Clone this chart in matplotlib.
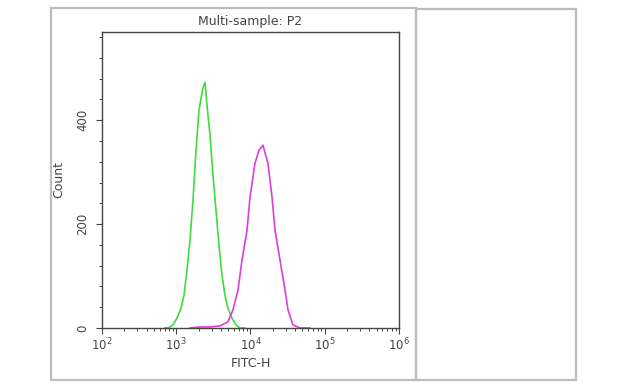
import matplotlib
matplotlib.use('Agg')
import matplotlib.pyplot as plt
from matplotlib.patches import Rectangle
from matplotlib.ticker import LogLocator, FixedLocator, MultipleLocator

plt.rcParams['font.family'] = ['DejaVu Sans']

# 数据: FITC-H 值 和 计数
green_x = [705, 799, 904, 1024, 1159, 1272, 1396, 1532, 1681, 1845, 2025, 2154,
           2293, 2440, 2596, 2849, 3126, 3431, 3765, 4132, 4535, 4977, 5634,
           6378, 7221, 8430]
green_y = [0, 1, 6, 19, 38, 63, 112, 169, 246, 342, 419, 442,
           462, 473, 429, 371, 294, 227, 160, 102, 63, 38, 19,
           6, 0, 0]

pink_x = [1531, 2089, 2849, 3883, 4977, 5810, 6790, 7690, 8980, 9850, 11500,
          13010, 14730, 17200, 19500, 21400, 24970, 29200, 32000, 37300, 46400, 63200]
pink_y = [0, 2, 2, 4, 12, 35, 73, 131, 188, 252, 317,
          342, 352, 317, 252, 188, 131, 73, 35, 6, 0, 0]

y_ticks = [0, 200, 400]
x_ticks = [1e2, 1e3, 1e4, 1e5, 1e6]
x_labels = ['$10^2$', '$10^3$', '$10^4$', '$10^5$', '$10^6$']

fig = plt.figure(figsize=(6.2, 3.91), dpi=100)
fig.patch.set_facecolor('white')

# 外框
fig.patches.append(Rectangle((0.0823, 0.0281), 0.5887, 0.9514, transform=fig.transFigure,
                             fill=False, edgecolor='#bdbdbd', linewidth=1.6))
fig.patches.append(Rectangle((0.671, 0.0281), 0.258, 0.949, transform=fig.transFigure,
                             fill=False, edgecolor='#bdbdbd', linewidth=1.6))

ax = fig.add_axes([0.1645, 0.1611, 0.479, 0.7571])
ax.plot(green_x, green_y, color='#3ddd3d', linewidth=1.2)
ax.plot(pink_x, pink_y, color='#dd3ddd', linewidth=1.2)

ax.set_xscale('log')
ax.set_xlim(1e2, 1e6)
ax.set_ylim(0, 570)

ax.xaxis.set_major_locator(FixedLocator(x_ticks))
ax.set_xticklabels(x_labels)
ax.xaxis.set_minor_locator(LogLocator(base=10, subs=range(2, 10)))
ax.yaxis.set_major_locator(FixedLocator(y_ticks))
ax.yaxis.set_minor_locator(MultipleLocator(40))
ax.set_yticklabels([str(v) for v in y_ticks], rotation=90, va='center')

ax.tick_params(axis='x', which='major', pad=2)
ax.tick_params(axis='y', which='major', pad=5)
ax.tick_params(which='major', direction='out', length=4, width=0.8, labelsize=8.5, colors='#444444')
ax.tick_params(which='minor', direction='out', length=2.5, width=0.7, colors='#444444')
for s in ax.spines.values():
    s.set_color('#444444')
    s.set_linewidth(1.0)

ax.set_title('Multi-sample: P2', fontsize=9, pad=5, color='#444444')
ax.set_xlabel('FITC-H', fontsize=9, labelpad=3, color='#444444')
ax.set_ylabel('Count', fontsize=9, labelpad=8, color='#444444')

plt.savefig('out.png', dpi=100)
